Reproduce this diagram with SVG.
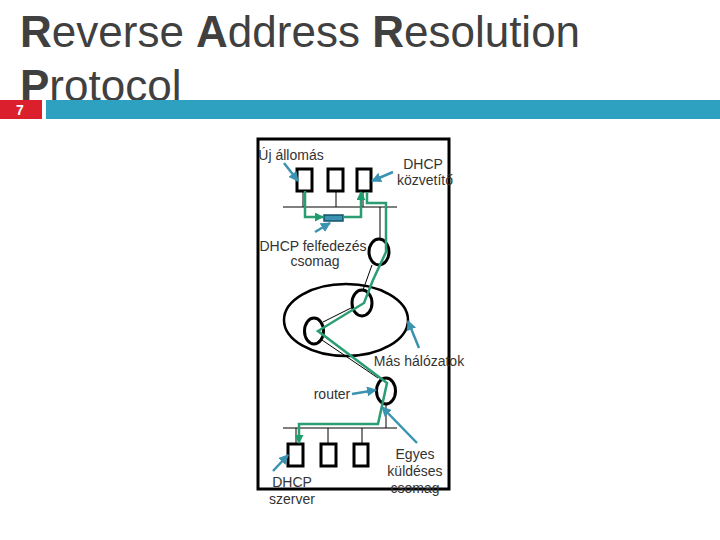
<svg xmlns="http://www.w3.org/2000/svg" width="720" height="540" viewBox="0 0 720 540">
<defs>
<marker id="ga" viewBox="0 0 10 10" refX="9" refY="5" markerWidth="3.6" markerHeight="3.6" orient="auto-start-reverse"><path d="M0 0L10 5L0 10z" fill="#1f9e6d"/></marker>
<marker id="ba" viewBox="0 0 10 10" refX="9" refY="5" markerWidth="4" markerHeight="4" orient="auto"><path d="M0 0L10 5L0 10z" fill="#3a93b0"/></marker>
</defs>
<style>
text{font-family:"Liberation Sans",Arial,sans-serif}
.title{font-size:44px;fill:#404040}
.title tspan{font-weight:bold}
.l{font-size:14px;fill:#333;text-anchor:middle}
.host{fill:#fff;stroke:#000;stroke-width:3}
.rt{fill:none;stroke:#000;stroke-width:3}
.thin{stroke:#000;stroke-width:1;fill:none}
.g{stroke:#2a9d72;stroke-width:2.5;fill:none;stroke-linejoin:miter}
.b{stroke:#3a93b0;stroke-width:2.5;fill:none;marker-end:url(#ba)}
</style>
<rect width="720" height="540" fill="#fff"/>
<g id="title">
<text class="title" x="20" y="47"><tspan>R</tspan>everse <tspan>A</tspan>ddress <tspan>R</tspan>esolution</text>
<text class="title" x="20" y="101"><tspan>P</tspan>rotocol</text>
</g>
<g id="header-bar">
<rect x="0" y="100" width="42" height="19" fill="#dc1f2c"/>
<rect x="46" y="100" width="674" height="19" fill="#2ea1c0"/>
<text x="20" y="115" font-size="14" font-weight="bold" fill="#fff" text-anchor="middle">7</text>
</g>
<rect id="frame" x="258" y="139" width="191" height="350" fill="none" stroke="#000" stroke-width="3"/>
<g id="network-lines">
<path class="thin" d="M283 207H397M303 191V207M336 184V207M363 191V207M380 207V240M372 265L363 290M323 322L353 307M322 340L378 378M386 404V428M283 428H397M296 428V444M328 428V444M362 428V444"/>
</g>
<g id="cloud"><ellipse cx="346" cy="320" rx="62" ry="36" fill="none" stroke="#000" stroke-width="2.5"/></g>
<g id="host-1"><rect class="host" x="297" y="169" width="15" height="22"/></g>
<g id="host-2"><rect class="host" x="328" y="169" width="15" height="22"/></g>
<g id="host-3"><rect class="host" x="357" y="169" width="14" height="22"/></g>
<g id="packet"><rect x="324" y="215" width="19" height="6" fill="#3a93b0" stroke="#14506b" stroke-width="1.5"/></g>
<g id="router-1"><ellipse class="rt" cx="379" cy="252" rx="10" ry="13"/></g>
<g id="router-2"><ellipse class="rt" cx="362" cy="303" rx="10" ry="13"/></g>
<g id="router-3"><ellipse class="rt" cx="314" cy="331" rx="9.500" ry="13"/></g>
<g id="router-4"><ellipse class="rt" cx="386" cy="391" rx="9.500" ry="13"/></g>
<g id="host-4"><rect class="host" x="288" y="444" width="15" height="22"/></g>
<g id="host-5"><rect class="host" x="321" y="444" width="15" height="22"/></g>
<g id="host-6"><rect class="host" x="354" y="444" width="14" height="22"/></g>
<g id="connectors">
<path class="g" d="M305 191V217H323" marker-end="url(#ga)"/>
<path class="g" d="M343 217H361V192" marker-end="url(#ga)"/>
<path class="g" d="M367 192V203H386V252L373 280L364 303L318 331L387 383L378 424H299V443" marker-end="url(#ga)"/>
<path class="b" d="M284 163L298 181"/>
<path class="b" d="M393 172L372 181"/>
<path class="b" d="M315 232L330 223"/>
<path class="b" d="M419 348L408 321"/>
<path class="b" d="M352 394L376 390"/>
<path class="b" d="M417 443L382 407"/>
<path class="b" d="M273 471L288 455"/>
</g>
<g id="labels">
<text class="l" x="291" y="160">Új állomás</text>
<text class="l" x="423" y="169">DHCP</text>
<text class="l" x="425" y="185">közvetítő</text>
<text class="l" x="313" y="251">DHCP felfedezés</text>
<text class="l" x="315" y="266">csomag</text>
<text class="l" x="419" y="366">Más hálózatok</text>
<text class="l" x="332" y="399">router</text>
<text class="l" x="415" y="459">Egyes</text>
<text class="l" x="415" y="476">küldéses</text>
<text class="l" x="415" y="493">csomag</text>
<text class="l" x="292" y="487">DHCP</text>
<text class="l" x="292" y="504">szerver</text>
</g>
</svg>
